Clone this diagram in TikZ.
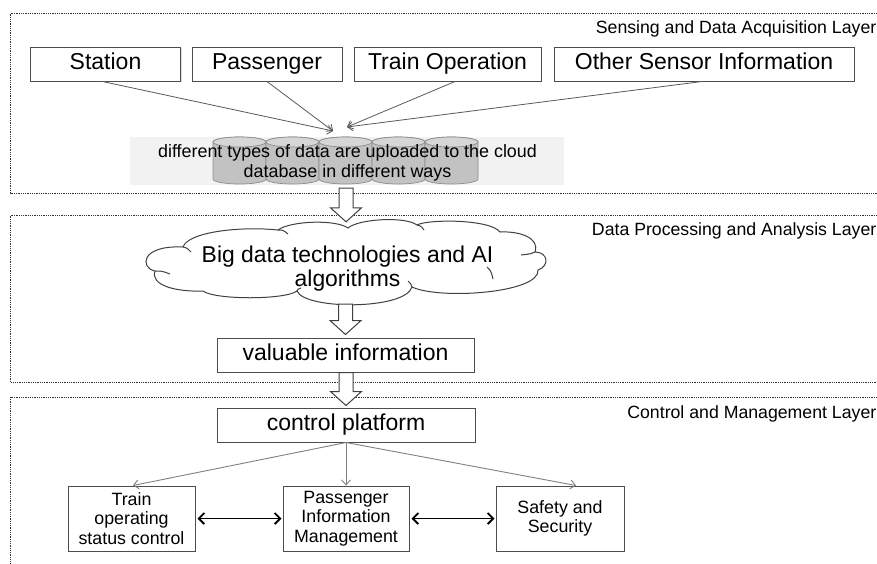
\documentclass[tikz,border=0pt]{standalone}
\usepackage{fontspec}
\setmainfont{Liberation Sans}
\usetikzlibrary{arrows.meta,shadows,calc}
\newcommand\hollowarrow[4]{%
  \draw[hollow] let \p1=(#1), \p2=(#2) in
    (\x2-7pt,\y1#3) -- (\x2-7pt,\y2#4+14pt) -- (\x2-15.5pt,\y2#4+14pt) -- (\x2,\y2#4)
    -- (\x2+15.5pt,\y2#4+14pt) -- (\x2+7pt,\y2#4+14pt) -- (\x2+7pt,\y1#3) -- cycle;}
\begin{document}
\begin{tikzpicture}[x=1pt,y=-1pt,
  layer/.style={draw=black!80, line width=0.9pt, dash pattern=on 0.9pt off 0.9pt},
  title/.style={anchor=base east, font=\fontsize{17.7}{20}\selectfont, inner sep=0pt},
  bigbox/.style={draw=black!70, line width=1pt, fill=white, inner sep=0pt,
    font=\fontsize{23}{27}\selectfont, text height=16.5pt, text depth=4.8pt,
    drop shadow={shadow xshift=1.2pt, shadow yshift=-1.2pt, opacity=0.25}},
  smallbox/.style={draw=black!70, line width=1pt, fill=white, inner sep=0pt, align=center,
    font=\fontsize{17.8}{19.6}\selectfont, minimum height=65pt,
    drop shadow={shadow xshift=1.2pt, shadow yshift=-1.2pt, opacity=0.25}},
  feed/.style={draw=black!65, line width=0.8pt, -{Straight Barb[length=5pt,width=9pt]}},
  ctrl/.style={draw=black!50, line width=0.9pt, -{Straight Barb[length=5pt,width=9pt]}},
  dbl/.style={draw=black, line width=1.9pt,
    {Straight Barb[length=5.5pt,width=11pt]}-{Straight Barb[length=5.5pt,width=11pt]}},
  hollow/.style={draw=black!75, line width=1pt, fill=white, line join=miter},
  cyl/.style={draw=black!45, line width=0.7pt, fill=gray!48},
  cyltop/.style={draw=black!45, line width=0.7pt, fill=gray!32},
  cloudline/.style={draw=black!75, line width=1pt},
]
\clip (0,0) rectangle (877,563);
\fill[white] (0,0) rectangle (877,563);

% layers
\draw[layer] (10.5,13.5) rectangle (900,193.5);
\draw[layer] (10.5,215.5) rectangle (900,382);
\draw[layer] (10.5,397) rectangle (900,640);
\node[title] (t1) at (876.5,33.5) {Sensing and Data Acquisition Layer};
\node[title] (t2) at (876.5,235.7) {Data Processing and Analysis Layer};
\node[title] (t3) at (876.5,418.3) {Control and Management Layer};

% sensing sources
\node[bigbox, minimum width=150pt, minimum height=34pt] (station) at (105.5,64) {Station};
\node[bigbox, minimum width=150pt, minimum height=34pt] (pass) at (267,64) {Passenger};
\node[bigbox, minimum width=187pt, minimum height=34pt] (trainop) at (447.5,64) {Train Operation};
\node[bigbox, minimum width=300pt, minimum height=34pt] (other) at (704,64) {Other Sensor Information};

% database
\node[fill=black!5, minimum width=434pt, minimum height=48pt, inner sep=0pt] (db) at (347,161) {};
\foreach \cx in {213,266,319,372,425}{
  \filldraw[cyl] (\cx,142) -- (\cx,179) arc[start angle=180,end angle=0,x radius=26.5,y radius=5]
    -- (\cx+53,142) arc[start angle=0,end angle=-180,x radius=26.5,y radius=5] -- cycle;
  \filldraw[cyltop] (\cx+26.5,142) ellipse[x radius=26.5,y radius=5];
}
\node[align=center, inner sep=0pt, font=\fontsize{17.9}{20}\selectfont] (dbtext) at (347.5,163)
  {different types of data are uploaded to the cloud\\database in different ways};

\coordinate (tipL) at (333,131);
\coordinate (tipR) at (347,127);
\draw[feed] ([xshift=-3pt]station.south) -- (tipL);
\draw[feed] (pass.south) -- (tipL);
\draw[feed] ([xshift=7.5pt]trainop.south) -- (tipR);
\draw[feed] ([xshift=-2pt]other.south) -- (tipR);

% processing: cloud
\node[minimum width=400pt, minimum height=84pt, inner sep=0pt] (cloud) at (346,263) {};
\filldraw[cloudline, fill=white] (183,247) .. controls (188,232) and (240,226) .. (278,230)
  .. controls (290,221) and (335,219) .. (348,228)
  .. controls (358,219) and (405,216) .. (417,225)
  .. controls (428,219) and (490,219) .. (500,232)
  .. controls (520,231) and (540,238) .. (535,252)
  .. controls (548,252) and (550,266) .. (538,270)
  .. controls (540,293) and (440,300) .. (412,287)
  .. controls (405,310) and (305,310) .. (297,291)
  .. controls (285,300) and (215,300) .. (203,291)
  .. controls (175,292) and (150,285) .. (155,271)
  .. controls (140,268) and (140,245) .. (183,247) -- cycle;
\draw[cloudline] (183,247) .. controls (187,248) .. (191,252);
\draw[cloudline] (278,230) .. controls (283,230) .. (288,234);
\draw[cloudline] (417,225) .. controls (421,226) .. (424,230);
\draw[cloudline] (535,252) .. controls (530,254) .. (521,255);
\draw[cloudline] (487,267) .. controls (491,271) .. (493,279);
\draw[cloudline] (412,287) .. controls (411,284) .. (408,281);
\draw[cloudline] (297,291) .. controls (298,289) .. (301,288);
\draw[cloudline] (155,271) .. controls (162,271) .. (170,274);
\node[align=center, inner sep=0pt, font=\fontsize{22.9}{23.5}\selectfont] (cloudtext) at (347.5,268.5)
  {Big data technologies and AI\\algorithms};
\node[bigbox, minimum width=257pt, minimum height=34pt] (val) at (345.5,355) {valuable information};

% control
\node[bigbox, minimum width=258pt, minimum height=34pt] (cp) at (346,425) {control platform};
\node[smallbox, minimum width=127pt] (tosc) at (131.5,518.5) {Train\\operating\\status control};
\node[smallbox, minimum width=126pt] (pim) at (346,518.5) {Passenger\\Information\\Management};
\node[smallbox, minimum width=128pt] (ss) at (560,518.5) {Safety and\\Security};

\draw[ctrl] (cp.south) -- ([xshift=1.5pt]tosc.north);
\draw[ctrl] (cp.south) -- (pim.north);
\draw[ctrl] (cp.south) -- ([xshift=16pt]ss.north);
\draw[dbl] ([xshift=2pt]tosc.east) -- ([xshift=-1pt]pim.west);
\draw[dbl] ([xshift=2pt]pim.east) -- ([xshift=-1pt]ss.west);

% hollow arrows
\hollowarrow{db.south}{cloud.north}{-3pt}{-1pt}
\hollowarrow{cloud.south}{val.north}{+1pt}{+3pt}
\hollowarrow{val.south}{cp.north}{+0pt}{+2pt}
\end{tikzpicture}
\end{document}
